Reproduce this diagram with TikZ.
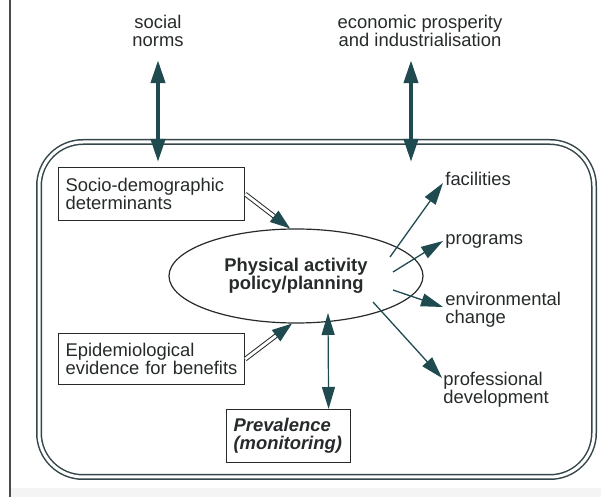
\documentclass[tikz,border=0pt]{standalone}
\usepackage{fontspec}
\setmainfont{Liberation Sans}
\usetikzlibrary{arrows.meta,shapes.geometric}
\definecolor{tealdk}{HTML}{1E4A50}
\definecolor{ink}{HTML}{262A2B}
\definecolor{framec}{HTML}{34464A}
\tikzset{
  lbl/.style={text=ink, align=left, inner sep=0pt, anchor=west},
  toplbl/.style={text=ink, align=center, inner sep=0pt},
  factor/.style={draw=ink, line width=0.6pt, text=ink, align=left, inner xsep=3.5pt, inner ysep=0pt, text width=86pt, minimum height=26.5pt, anchor=north west},
  bigarr/.style={tealdk, line width=2pt, {Triangle[length=11.5pt,width=7pt]}-{Triangle[length=11.5pt,width=7pt]}},
  outarr/.style={tealdk, line width=0.65pt, -{Triangle[length=11pt,width=6.5pt]}},
  inarr/.style={draw=ink, line width=0.5pt, double=white, double distance=1.4pt, -{Triangle[length=10pt,width=7pt,color=tealdk,fill=tealdk]}},
  prevarr/.style={tealdk, line width=0.6pt, {Triangle[length=11pt,width=6.5pt]}-{Triangle[length=11pt,width=6.5pt]}}
}
\begin{document}
\begin{tikzpicture}[x=0.5pt, y=-0.5pt, font=\fontsize{9.2}{9}\selectfont]
\useasboundingbox (0,0) rectangle (601,497);
\fill[gray!9] (11,488) rectangle (601,497);\draw[gray!60!black, line width=0.8pt] (10,0) -- (10,497);
% outer field
\draw[framec, line width=0.75pt, double=white, double distance=1.5pt, rounded corners=22pt] (39,142) rectangle (594,477);
% outside influences
\node[toplbl] (norms) at (158,31) {social\\norms};
\node[toplbl] (econ) at (420,31) {economic prosperity\\and industrialisation};
\coordinate (normsin) at (158,162);\coordinate (econin) at (411,162);
\draw[bigarr] ([yshift=-6.5pt]norms.south) -- (normsin);
\draw[bigarr] ([yshift=-6.5pt]norms.south -| econin) -- (econin);
% policy
\node[ellipse, draw=ink, line width=0.6pt, minimum width=127pt, minimum height=47pt, inner sep=0pt, text=ink, align=center, font=\fontsize{9.2}{9}\selectfont\bfseries] (plan) at (296,276) {Physical activity\\policy/planning};
\node[factor] (socio) at (58,167) {Socio-demographic\\determinants};
\node[factor, minimum height=25.5pt] (epid) at (58,333) {Epidemiological\\evidence for benefits};
\node[factor, text width=55pt, font=\fontsize{9.2}{9}\selectfont\bfseries\itshape] (prev) at (226,409) {Prevalence\\(monitoring)};
\draw[inarr] (socio.east) -- ([xshift=-3pt]plan.north);
\draw[inarr] (epid.east) -- ([xshift=-2pt]plan.south);
\coordinate (plantop) at (328,313);
\draw[prevarr] (plantop) -- ([xshift=20pt]prev.north);
% outcomes
\node[lbl] (fac) at (445,179) {facilities};
\node[lbl] (prog) at (445,241) {programs};
\node[lbl] (env) at (445,310) {environmental\\change};
\node[lbl] (prof) at (443,390) {professional\\development};
\coordinate (p1) at (390,257);\coordinate (p2) at (393,272);\coordinate (p3) at (393,290);\coordinate (p4) at (373,302);
\draw[outarr] (p1) -- ([yshift=-2pt,xshift=-1pt]fac.west);\draw[outarr] (p2) -- ([xshift=-1pt]prog.west);
\draw[outarr] (p3) -- ([yshift=1.5pt,xshift=-1pt]env.west);\draw[outarr] (p4) -- ([yshift=6pt,xshift=-0.5pt]prof.west);
\end{tikzpicture}
\end{document}
